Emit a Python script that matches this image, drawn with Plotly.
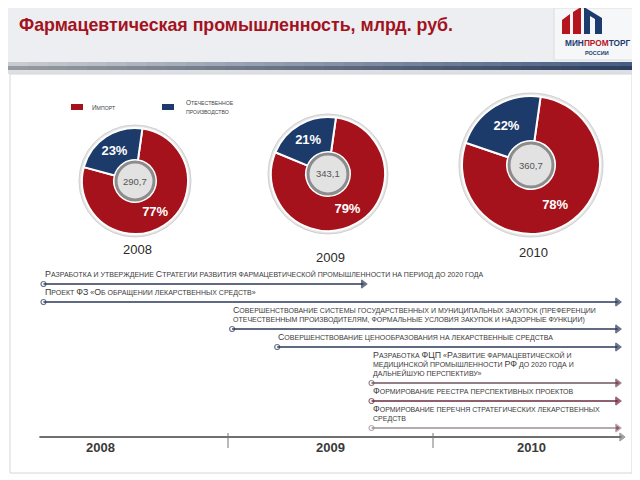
import plotly.graph_objects as go

# pie data
years = ["2008", "2009", "2010"]
totals = [290.7, 343.1, 360.7]
import_share = [77, 79, 78]
domestic_share = [23, 21, 22]
series_names = ["Импорт", "Отечественное производство"]

# timeline data (in years)
task_labels = [
    "Разработка и утверждение Стратегии развития фармацевтической промышленности на период до 2020 года",
    "Проект ФЗ «Об обращении лекарственных средств»",
    "Совершенствование системы государственных и муниципальных закупок (преференции<br>"
    "отечественным производителям, формальные условия закупок и надзорные функции)",
    "Совершенствование ценообразования на лекарственные средства",
    "Разработка ФЦП «Развитие фармацевтической и<br>медицинской промышленности РФ до 2020 года и<br>"
    "дальнейшую перспективу»",
    "Формирование реестра перспективных проектов",
    "Формирование перечня стратегических лекарственных<br>средств",
]
task_start = [2008.10, 2008.10, 2009.02, 2009.24, 2009.70, 2009.70, 2009.70]
task_end = [2009.66, 2010.90, 2010.90, 2010.90, 2010.90, 2010.90, 2010.90]
axis_years = [2008.08, 2010.92]
year_ticks = [2009, 2010]
year_label_pos = [2008.38, 2009.5, 2010.48]

# page has an 8px body margin, so the figure is drawn 8px in
OX, OY = 8, 8
FW, FH = 632, 472
RED = "#a5121b"
BLUE = "#1c3a6a"
FONT = "Liberation Sans, Arial, sans-serif"


def px(x):
    return (x - OX) / FW


def py(y):
    return 1 - (y - OY) / FH


def smallcaps(s, big=8.8, small=7.0):
    out = []
    for part in s.split("<br>"):
        spans = []
        for ch in part:
            size = big if ch.isupper() else small
            spans.append('<span style="font-size:%spx">%s</span>' % (size, ch.upper()))
        out.append("".join(spans))
    return "<br>".join(out)


def note(x, y, text, size, color="#444", xa="center", ya="middle", **kw):
    d = dict(x=x, y=y, xref="paper", yref="paper", xanchor=xa, yanchor=ya, showarrow=False,
             text=text, font=dict(family=FONT, size=size, color=color))
    d.update(kw)
    return d


fig = go.Figure()
shapes = []
annotations = []

# header
shapes.append(dict(type="rect", xref="paper", yref="paper", x0=0, x1=1, y0=py(62), y1=1,
                   fillcolor="#eceef1", line_width=0, layer="below"))
n = 32
for i in range(n):
    t = i / (n - 1)
    c1 = tuple(int(a + (b - a) * t) for a, b in zip((200, 203, 208), (70, 92, 128)))
    c2 = tuple(int(a + (b - a) * t) for a, b in zip((150, 154, 160), (45, 62, 95)))
    shapes.append(dict(type="rect", xref="paper", yref="paper", x0=i / n, x1=(i + 1) / n + 0.002,
                       y0=py(66), y1=py(62), fillcolor="rgb(%d,%d,%d)" % c1, line_width=0, layer="below"))
    shapes.append(dict(type="rect", xref="paper", yref="paper", x0=i / n, x1=(i + 1) / n + 0.002,
                       y0=py(70), y1=py(66), fillcolor="rgb(%d,%d,%d)" % c2, line_width=0, layer="below"))
shapes.append(dict(type="rect", xref="paper", yref="paper", x0=0, x1=1, y0=py(74), y1=py(70),
                   fillcolor="#dcdfe3", line_width=0, layer="below"))

# content panel
shapes.append(dict(type="rect", xref="paper", yref="paper", x0=px(10), x1=px(632), y0=py(473), y1=py(74),
                   fillcolor="white", line=dict(color="#d6d6d6", width=1), layer="below"))

# logo
shapes.append(dict(type="rect", xref="paper", yref="paper", x0=px(554), x1=px(636), y0=py(60), y1=py(8),
                   fillcolor="#f6f7f9", line=dict(color="#dcdde0", width=1), layer="below"))


def path(points):
    return "M " + " L ".join("%f %f" % (px(a), py(b)) for a, b in points) + " Z"


shapes.append(dict(type="path", xref="paper", yref="paper", path=path([(562, 34), (562, 20), (570, 14), (570, 34)]),
                   fillcolor="#b4151e", line_width=0))
shapes.append(dict(type="path", xref="paper", yref="paper", path=path([(573, 34), (573, 12), (581, 7), (581, 34)]),
                   fillcolor="#b4151e", line_width=0))
shapes.append(dict(type="path", xref="paper", yref="paper", path=path([(584, 34), (584, 7), (602, 18), (602, 34),
                                                                        (595, 34), (595, 19), (590, 16), (590, 34)]),
                   fillcolor="#1d3c6e", line_width=0))
annotations.append(note(px(597), py(43),
                        '<span style="color:#1d3c6e">МИН</span><span style="color:#b4151e">ПРОМ</span>'
                        '<span style="color:#1d3c6e">ТОРГ</span>', 8.3))
annotations[-1]["font"]["weight"] = "bold"
annotations.append(note(px(597), py(53), "РОССИИ", 5.5, "#1d3c6e"))
annotations[-1]["font"]["weight"] = "bold"

# title
annotations.append(note(px(17), py(25), "Фармацевтическая промышленность, млрд. руб.", 17.8, "#a3121d", xa="left"))
annotations[-1]["font"]["weight"] = "bold"

# legend
shapes.append(dict(type="rect", xref="paper", yref="paper", x0=px(71), x1=px(83), y0=py(110), y1=py(104),
                   fillcolor=RED, line_width=0))
shapes.append(dict(type="rect", xref="paper", yref="paper", x0=px(162), x1=px(174), y0=py(110), y1=py(104),
                   fillcolor=BLUE, line_width=0))
annotations.append(note(px(90), py(107), smallcaps(series_names[0], 6.4, 5.2), 7, xa="left"))
annotations.append(note(px(184), py(107), smallcaps(series_names[1].replace(" ", "<br>"), 6.4, 5.2), 7,
                        xa="left", align="left"))

# pies
centers = [(135, 181), (328, 174), (531, 165)]
radii = [53, 57, 69]
hole_r = [19, 20, 22]
label_y = [250, 257, 253]
for i in range(3):
    cx, cy = centers[i]
    r = radii[i]
    shapes.append(dict(type="circle", xref="paper", yref="paper", x0=px(cx - r - 3), x1=px(cx + r + 3),
                       y0=py(cy + r + 3), y1=py(cy - r - 3), fillcolor="#e6e6e6",
                       line=dict(color="#cfcfcf", width=1), layer="below"))
    fig.add_trace(go.Pie(
        values=[import_share[i], domestic_share[i]], labels=series_names, sort=False,
        direction="clockwise", rotation=8, hole=(hole_r[i] + 2) / r,
        marker=dict(colors=[RED, BLUE], line=dict(color="white", width=2)),
        texttemplate="%{value}%", textposition="inside", insidetextorientation="horizontal",
        textfont=dict(family=FONT, size=13, color="white", weight="bold"),
        domain=dict(x=[px(cx - r), px(cx + r)], y=[py(cy + r), py(cy - r)]),
        showlegend=False, hoverinfo="label+percent",
    ))
    hr = hole_r[i]
    shapes.append(dict(type="circle", xref="paper", yref="paper", x0=px(cx - hr), x1=px(cx + hr),
                       y0=py(cy + hr), y1=py(cy - hr), fillcolor="#e2e2e2",
                       line=dict(color="#8c8c8c", width=3), layer="above"))
    annotations.append(note(px(cx), py(cy), ("%.1f" % totals[i]).replace(".", ","), 9.5, "#555"))
    annotations.append(note(px(cx + 2), py(label_y[i]), years[i], 13, "#2a2a2a"))

# timeline rows
row_lines = [lbl.count("<br>") + 1 for lbl in task_labels]
row_y = []
y = 284
for k, nl in enumerate(row_lines):
    if k > 0:
        y += 9 * nl + 9
    row_y.append(y)

line_colors = ["#2b3a5a"] * 4 + ["#6e5560", "#6a2d3e", "#9b8f94"]
arrow_colors = ["#2b3a5a"] * 4 + ["#7a1630"] * 3
for k in range(len(task_labels)):
    fig.add_trace(go.Scatter(
        x=[task_start[k], task_end[k]], y=[row_y[k], row_y[k]], mode="lines+markers",
        line=dict(color=line_colors[k], width=1.6),
        marker=dict(symbol=["circle-open", "triangle-right"], size=[5, 7],
                    color=[line_colors[k], arrow_colors[k]], line=dict(width=1.2)),
        showlegend=False, hoverinfo="skip",
    ))
    annotations.append(dict(x=task_start[k], y=row_y[k] - 3, xref="x", yref="y", xanchor="left",
                            yanchor="bottom", align="left", showarrow=False, xshift=-1,
                            text=smallcaps(task_labels[k]),
                            font=dict(family=FONT, size=7, color="#3a3a3a")))

# year axis
axis_y = 437
fig.add_trace(go.Scatter(
    x=axis_years, y=[axis_y, axis_y], mode="lines+markers",
    line=dict(color="#707070", width=1.8),
    marker=dict(symbol=["line-ns", "triangle-right"], size=[0.1, 7], color="#808080"),
    showlegend=False, hoverinfo="skip",
))
for t in year_ticks:
    fig.add_trace(go.Scatter(x=[t, t], y=[axis_y - 4, axis_y + 11], mode="lines",
                             line=dict(color="#777", width=1), showlegend=False, hoverinfo="skip"))
for t, lbl in zip(year_label_pos, years):
    annotations.append(dict(x=t, y=axis_y + 10, xref="x", yref="y", xanchor="center", yanchor="middle",
                            showarrow=False, text=lbl,
                            font=dict(family=FONT, size=13, color="#3a3a3a", weight="bold")))

x_lo = 2009 - (228 - OX) / 205
x_hi = 2009 + (OX + FW - 228) / 205
fig.update_layout(
    width=FW, height=FH, margin=dict(l=0, r=0, t=0, b=0),
    paper_bgcolor="white", plot_bgcolor="rgba(0,0,0,0)",
    xaxis=dict(range=[x_lo, x_hi], visible=False, fixedrange=True),
    yaxis=dict(range=[OY + FH, OY], visible=False, fixedrange=True),
    shapes=shapes, annotations=annotations, showlegend=False,
)
fig.write_html("out.html")
